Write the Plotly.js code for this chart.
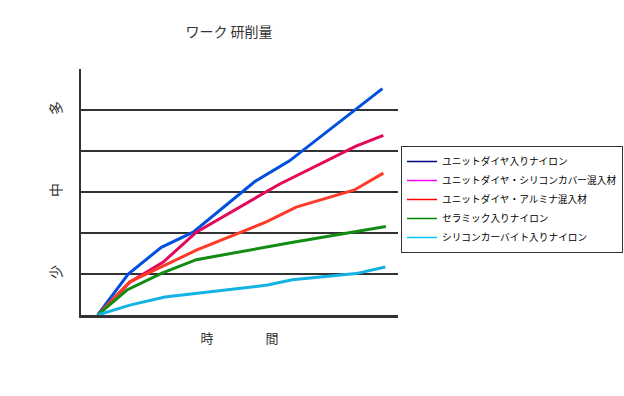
<!DOCTYPE html>
<html>
<head>
<meta charset="utf-8">
<script src="https://cdn.plot.ly/plotly-3.0.1.min.js"></script>
<style>html,body{margin:0;padding:0;background:#fff}#chart{width:624px;height:396px}</style>
</head>
<body>
<div id="chart"></div>
<script>
// series names (legend)
const seriesNames = [
  "ユニットダイヤ入りナイロン",
  "ユニットダイヤ・シリコンカバー混入材",
  "ユニットダイヤ・アルミナ混入材",
  "セラミック入りナイロン",
  "シリコンカーバイト入りナイロン"
];
// time (x) and grinding amount (y)
const timeBlue = [0, 0.96, 2.0, 3.0, 4.93, 6.03, 8.95];
const amtBlue  = [0, 1.0, 1.65, 2.02, 3.25, 3.76, 5.52];
const timePink = [0, 1.01, 2.06, 3.1, 5.71, 8.12, 8.98];
const amtPink  = [0, 0.80, 1.29, 2.02, 3.19, 4.12, 4.38];
const timeRed  = [0, 1.01, 2.05, 3.1, 5.3, 6.24, 8.07, 8.98];
const amtRed   = [0, 0.81, 1.19, 1.58, 2.27, 2.63, 3.05, 3.46];
const timeGreen = [0, 0.92, 2.02, 3.1, 6.05, 9.06];
const amtGreen  = [0, 0.61, 1.02, 1.35, 1.76, 2.16];
const timeCyan = [0, 1.01, 2.11, 5.34, 6.12, 8.12, 9.04];
const amtCyan  = [0, 0.24, 0.44, 0.73, 0.86, 1.01, 1.17];
// y tick labels
const yTickVals = [1, 2, 3, 4, 5];
const yTickText = ["少", "", "中", "", "多"];

const lineColors = ["#0050e0", "#e4085c", "#ff3a28", "#138c13", "#12b2e4"];
const legendColors = ["#000080", "#ff00ff", "#ff0000", "#008000", "#00c8ff"];

const xs = [timeBlue, timePink, timeRed, timeGreen, timeCyan];
const ys = [amtBlue, amtPink, amtRed, amtGreen, amtCyan];

const traces = [];
for (let i = 0; i < 5; i++) {
  traces.push({
    x: xs[i], y: ys[i], type: "scatter", mode: "lines",
    line: {color: lineColors[i], width: 3},
    showlegend: false, hoverinfo: "skip", name: seriesNames[i]
  });
}
for (let i = 0; i < 5; i++) {
  traces.push({
    x: [null], y: [null], type: "scatter", mode: "lines",
    line: {color: legendColors[i], width: 1.5},
    name: seriesNames[i], showlegend: true
  });
}

const font = "'Noto Sans CJK JP', 'Noto Sans', sans-serif";
const layout = {
  width: 624, height: 396,
  paper_bgcolor: "#fff", plot_bgcolor: "#fff",
  margin: {l: 81, r: 226, t: 69, b: 81},
  font: {family: font, color: "#333"},
  title: {text: "ワーク 研削量", x: 229/624, xref: "container", xanchor: "center",
          y: 1 - 32/396, yref: "container", yanchor: "middle",
          font: {size: 14, color: "#333", family: font}},
  xaxis: {
    range: [-0.525, 9.44], showline: true, linecolor: "#333", linewidth: 2.5,
    showgrid: false, zeroline: false, showticklabels: false, ticks: "",
    title: {text: "時　　　　間", font: {size: 13, color: "#333"}, standoff: 18}
  },
  yaxis: {
    range: [0, 6], showline: true, linecolor: "#333", linewidth: 2.5,
    showgrid: true, gridcolor: "#333", gridwidth: 2, zeroline: false,
    tickmode: "array", tickvals: yTickVals, ticktext: yTickText,
    tickangle: -90, ticks: "", ticklabelstandoff: 12,
    tickfont: {size: 14, color: "#333"}
  },
  legend: {
    xref: "container", yref: "container",
    x: 401/624, y: 1 - 146/396, xanchor: "left", yanchor: "top",
    bordercolor: "#333", borderwidth: 1, bgcolor: "#fff",
    font: {size: 9.7, color: "#000", family: font},
    itemwidth: 30, tracegroupgap: 0
  },
  showlegend: true
};

Plotly.newPlot("chart", traces, layout, {displayModeBar: false, staticPlot: true});
</script>
</body>
</html>
